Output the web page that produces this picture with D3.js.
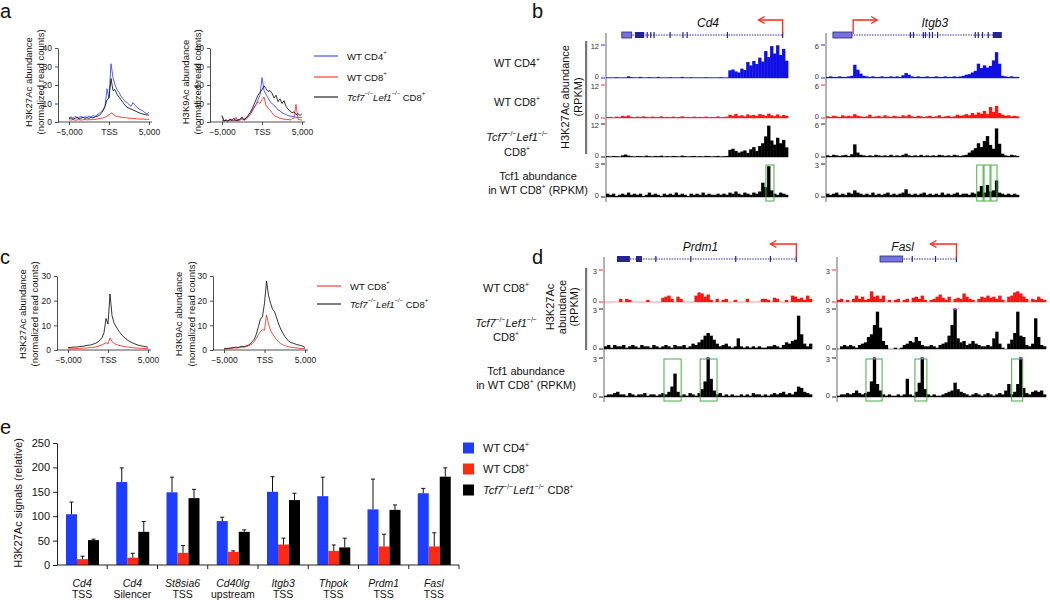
<!DOCTYPE html>
<html><head><meta charset="utf-8">
<script src="https://cdn.jsdelivr.net/npm/d3@7"></script>
<style>
body{margin:0;background:#fff;}
svg{font-family:"Liberation Sans",Arial,Helvetica,sans-serif;}
</style></head><body>
<svg id="fig" width="1050" height="600"></svg>
<script>
// ---------------- DATA ----------------
const profilePos = [-5000,-4750,-4500,-4250,-4000,-3750,-3500,-3250,-3000,-2750,-2500,-2250,-2000,-1750,-1500,-1250,-1000,-750,-500,-250,0,250,500,750,1000,1250,1500,1750,2000,2250,2500,2750,3000,3250,3500,3750,4000,4250,4500,4750,5000];
const profileTicks = [-5000, 0, 5000];
const a1Blue  = [2.2,2.8,2.0,3.1,2.4,2.6,3.0,2.3,2.9,2.5,3.2,2.7,3.4,3.0,3.8,4.5,5.6,6.5,8.5,18.0,13.0,31.5,24.0,20.0,17.5,16.0,14.0,12.5,11.0,10.5,9.5,8.5,10.5,9.0,8.0,7.0,6.5,6.0,5.0,4.5,5.2];
const a1Black = [1.8,2.2,1.5,2.0,2.4,1.7,2.1,2.6,1.9,2.3,2.0,2.5,2.2,2.8,3.0,3.5,4.5,6.0,8.5,12.0,13.0,23.5,17.0,17.5,15.0,13.5,12.0,10.5,9.0,8.0,7.5,7.0,6.5,6.0,5.5,5.0,4.6,4.3,4.0,3.8,3.7];
const a1Red   = [1.2,1.0,1.4,0.9,1.1,1.3,1.0,1.2,1.4,1.1,1.3,1.2,1.5,1.4,1.6,1.8,2.0,2.2,2.6,3.2,3.8,5.0,4.2,3.4,3.0,2.8,2.6,2.3,2.5,2.2,2.0,2.1,1.8,1.9,1.7,1.6,1.5,1.7,1.4,1.5,1.4];
const a2Blue  = [0.8,0.5,1.0,0.6,0.9,1.2,0.7,1.0,1.3,1.1,1.6,1.4,2.2,2.8,4.0,5.5,7.5,9.5,12.0,14.5,24.0,17.0,15.0,13.0,11.0,10.0,9.0,8.0,6.5,6.0,5.0,4.5,4.0,3.5,3.2,3.0,2.8,2.6,2.4,2.5,2.4];
const a2Black = [3.5,0.5,1.2,0.4,1.5,0.8,2.0,0.6,1.0,1.4,2.5,1.2,2.2,3.5,5.0,7.0,9.5,12.0,14.5,16.0,17.5,19.5,18.0,16.5,17.0,15.5,13.0,14.5,11.0,12.5,10.0,11.5,8.5,7.0,6.0,5.0,5.5,4.0,4.5,3.5,4.5];
const a2Red   = [3.0,0.5,1.0,0.4,1.8,0.6,0.9,2.5,0.5,1.2,2.8,0.8,1.5,2.5,4.0,6.0,8.0,9.5,11.0,10.0,12.0,13.5,9.0,7.5,6.5,5.0,3.5,3.0,2.5,2.0,1.8,1.5,1.2,1.5,1.0,1.8,2.0,9.5,1.5,1.2,1.0];
const c1Black = [1.0,1.0,1.1,1.2,1.2,1.3,1.4,1.5,1.6,1.8,1.9,2.0,2.2,2.5,2.8,3.3,4.0,5.0,7.0,12.8,10.5,22.7,14.0,11.0,9.5,8.2,7.0,6.0,5.2,4.5,3.9,3.4,3.0,2.6,2.3,2.0,1.8,1.6,1.5,1.3,1.2];
const c1Red   = [0.4,0.5,0.5,0.5,0.6,0.6,0.7,0.7,0.8,0.8,0.9,1.0,1.0,1.1,1.3,1.5,1.8,2.1,2.5,3.0,2.5,4.9,3.5,2.7,2.3,2.0,1.8,1.6,1.4,1.3,1.2,1.1,1.0,0.9,0.8,0.8,0.7,0.7,0.6,0.6,0.5];
const c2Black = [0.5,0.6,0.7,0.8,0.9,1.0,1.2,1.0,1.3,1.5,1.3,1.7,2.0,2.5,3.5,4.5,6.5,9.5,12.5,13.5,19.0,28.0,22.0,19.0,16.5,15.5,13.0,10.5,8.5,7.0,5.5,4.5,3.5,3.0,2.8,2.5,2.2,2.0,1.8,1.5,1.0];
const c2Red   = [0.4,0.5,0.5,0.6,0.7,0.8,0.8,0.9,1.0,1.1,1.2,1.4,1.6,2.0,2.6,3.5,4.8,6.2,7.5,8.2,8.0,14.2,10.5,8.0,6.5,5.2,4.2,3.3,2.6,2.1,1.8,1.5,1.3,1.1,1.0,0.9,0.8,0.7,0.6,0.6,0.5];

const cd4Blue  = [0.2,0.2,0.2,0.3,0.2,0.2,0.2,0.6,0.3,0.2,0.2,0.4,0.2,0.2,0.3,0.2,0.2,0.4,0.2,0.2,0.2,0.3,0.2,0.2,0.2,0.4,0.2,0.2,0.3,0.2,0.2,0.2,0.2,0.3,0.2,0.2,0.2,0.2,0.3,0.2,0.2,2.8,3.1,2.4,2.0,3.4,2.9,5.8,4.6,6.2,5.1,7.4,6.0,9.8,7.6,11.6,8.9,11.9,8.4,10.6,6.3];
const cd4Red   = [0.3,0.4,0.2,0.5,0.3,0.8,0.6,0.9,0.4,0.3,0.5,0.3,0.6,0.4,0.3,0.5,0.4,0.3,0.6,0.3,0.4,0.3,0.5,0.3,0.4,0.6,0.3,0.4,0.3,0.5,0.3,0.4,0.3,0.5,0.3,0.4,0.3,0.6,0.3,0.4,0.5,1.2,0.8,1.5,0.7,1.0,0.6,1.3,0.9,1.1,0.7,1.4,1.2,0.8,1.6,1.0,0.7,1.3,0.6,1.1,0.8];
const cd4Black = [0.3,0.2,0.4,0.3,0.2,0.6,0.9,0.5,0.3,0.2,0.4,0.3,0.2,0.5,0.3,0.2,0.4,0.3,0.5,0.2,0.3,0.2,0.4,0.3,0.2,0.5,0.3,0.2,0.3,0.4,0.2,0.3,0.2,0.4,0.3,0.2,0.3,0.4,0.2,0.3,0.4,2.6,3.0,2.2,1.6,2.0,2.4,1.5,2.8,3.6,2.2,4.0,5.0,7.5,11.4,6.0,4.5,7.0,5.0,6.2,3.5];
const cd4Tcf1  = [0.3,0.2,0.3,0.1,0.2,0.3,0.2,0.4,0.2,0.3,0.2,0.3,0.1,0.2,0.4,0.2,0.3,0.2,0.1,0.3,0.2,0.3,0.2,0.4,0.2,0.3,0.2,0.1,0.3,0.2,0.3,0.2,0.4,0.2,0.3,0.2,0.2,0.3,0.2,0.3,0.2,0.4,0.3,0.5,0.3,0.2,0.4,0.3,0.2,0.4,0.3,0.5,1.3,0.9,2.8,0.6,0.3,0.2,0.4,0.3,0.2];
const cd4Boxes = [[53.6, 56.3]];
const cd4Exons = [[9.7,12.8],[13.6,14.0],[14.8,15.2],[15.9,16.3],[21.3,21.7],[25.6,26.0],[27.0,27.4],[40.5,40.9],[59.0,59.4]];
const cd4Utr   = [[5.3,8.6]];

const itgBlue  = [0.2,0.3,0.2,0.2,0.3,0.2,0.2,0.3,0.4,2.4,1.5,0.8,0.4,0.3,0.2,0.3,0.2,0.2,0.3,0.2,0.2,0.3,0.2,0.3,0.2,0.5,0.9,0.6,0.3,0.2,0.3,0.2,0.2,0.3,0.2,0.2,0.3,0.2,0.2,0.3,0.2,0.2,0.3,0.2,0.3,0.4,0.6,0.7,1.0,1.3,2.6,1.8,2.3,1.9,2.2,3.2,4.7,2.6,0.4,0.3,0.2,0.3,0.2,0.2];
const itgRed   = [0.3,0.2,0.4,0.3,0.2,0.5,0.3,0.4,0.3,0.7,0.4,0.3,0.2,0.3,0.6,0.2,0.3,0.4,0.2,0.5,0.3,0.2,0.4,0.3,0.2,0.5,0.3,0.6,0.3,0.2,0.4,0.3,0.2,0.3,0.4,0.2,0.3,0.5,0.2,0.3,0.4,0.2,0.3,0.6,0.4,0.5,0.7,0.5,0.9,0.6,1.0,0.8,1.3,0.7,2.0,1.1,2.2,0.9,0.6,0.4,0.5,0.3,0.4,0.3];
const itgBlack = [0.3,0.2,0.4,0.3,0.2,0.3,0.4,0.2,0.5,2.3,0.8,0.4,0.3,0.2,0.3,0.2,0.4,0.3,0.2,0.3,0.2,0.4,0.2,0.3,0.2,0.4,0.6,0.3,0.2,0.3,0.2,0.4,0.2,0.3,0.2,0.3,0.2,0.4,0.3,0.2,0.3,0.2,0.4,0.3,0.2,0.3,0.4,0.8,1.2,1.6,2.5,1.8,2.9,3.8,2.2,1.5,5.2,2.4,0.6,0.3,0.2,0.4,0.3,0.2];
const itgTcf1  = [0.3,0.2,0.3,0.4,0.2,0.3,0.2,0.4,0.3,0.6,0.4,0.3,0.2,0.3,0.2,0.4,0.2,0.3,0.2,0.3,0.4,0.2,0.3,0.2,0.3,0.4,0.7,0.3,0.2,0.3,0.2,0.3,0.4,0.2,0.3,0.2,0.3,0.2,0.4,0.2,0.3,0.2,0.3,0.4,0.2,0.3,0.3,0.2,0.4,0.3,0.5,1.0,0.4,1.1,0.5,0.6,1.5,0.4,0.3,0.2,0.3,0.2,0.3,0.2];
const itgBoxes = [[50.0,52.1],[52.4,54.4],[54.7,56.7]];
const itgExons = [[27.8,28.1],[28.8,29.1],[32.1,32.4],[32.8,33.1],[34.1,34.4],[35.1,35.4],[36.8,37.1],[49.3,49.6],[50.3,50.6],[51.7,52.0],[53.6,53.9],[55.3,58.3]];
const itgUtr   = [[2.3,8.6]];

const prdRed   = [0,0,0,0,0,0.3,0,0.3,0.2,0,0,0,0,0,0.2,0,0,0,0,0.4,0.5,0.6,0.3,0,0.5,0.3,0,0,0,0,0.6,0.9,0.8,0.5,0.7,0.2,0,0.3,0,0.2,0.3,0,0,0.2,0,0,0,0.3,0,0,0,0,0.3,0.3,0.2,0,0.4,0.3,0,0,0.2,0,0.6,0.5,0.3,0.4,0.2,0.6,0.3];
const prdBlack = [0.2,0.3,0.1,0.3,0.2,0.2,0.3,0.1,0.2,0.3,0.2,0.1,0.3,0.2,0.2,0.1,0.3,0.2,0.1,0.2,0.3,0.2,0.1,0.3,0.2,0.2,0.3,0.1,0.2,0.4,0.3,0.5,0.7,1.0,1.2,1.0,0.7,0.4,0.2,0.3,0.4,0.2,0.1,0.2,0.8,0.2,0.1,0.2,0.1,0.2,0.1,0.2,0.1,0.1,0.2,0.2,0.3,0.2,0.1,0.3,0.5,0.4,0.6,0.7,2.5,1.1,0.4,0.2,0.4];
const prdTcf1  = [0.1,0.2,0.2,0.3,0.4,0.2,0.2,0.1,0.3,0.2,0.1,0.2,0.2,0.3,0.1,0.2,0.2,0.1,0.2,0.3,0.2,0.4,0.8,1.8,0.4,0.1,0.2,0.1,0.3,0.2,0.1,0.3,0.6,1.2,3.2,1.4,0.5,0.2,0.3,0.1,0.2,0.1,0.2,0.1,0.1,0.2,0.1,0.2,0.1,0.3,0.2,0.2,0.1,0.2,0.1,0.2,0.3,0.2,0.3,0.4,0.2,0.3,0.2,0.4,0.8,0.7,0.4,0.3,0.2];
const prdBoxes = [[19.9,25.6],[31.9,37.5]];
const prdExons = [[4.3,8.6],[10.6,12.6],[17.0,17.4],[28.6,29.0],[43.5,43.9],[55.0,55.4],[63.6,64.0]];
const prdUtr   = [];

const fasRed   = [0.2,0.3,0,0.2,0,0.3,0.6,0.3,0.5,0.2,0.3,1.0,0.5,0.6,0.3,0.6,0,0.2,0,0.2,0.3,0,0.2,0.3,0,0.4,0.5,0.3,0.6,0.2,0,0.2,0.3,0.5,0.7,0.4,0.2,0.5,0,0.3,0.4,0.3,0.8,0.5,0.3,0.2,0,0.3,0.5,0.4,0.6,0.4,0.5,0.3,0.6,0.2,0,0.5,0.6,0.9,1.0,0.8,0.5,0.3,0,0.3,0.2,0.5,0.3,0.2];
const fasBlack = [0,0.2,0.3,0.2,0.3,0.2,0.1,0.3,0.4,0.5,0.9,1.1,1.8,2.8,1.6,0.6,0.3,0,0,0.1,0,0.1,0.3,0.4,0.6,0.5,0.9,0.6,0.3,0.2,0.2,0.3,0.2,0.1,0.3,0.4,0.5,1.0,1.8,3.2,0.8,0.5,0.6,0.3,0.4,0.6,0.4,0.3,0.2,0.2,0.3,0.2,0.8,1.3,0.4,0.1,0,0.4,0.7,1.2,2.8,1.0,0.9,0.3,0.2,0.4,2.3,0.9,0.3,0.2];
const fasTcf1  = [0.1,0.2,0.2,0.3,0.2,0.3,0.5,0.3,0.2,0.3,0.4,1.2,3.2,1.0,0.5,0.2,0.1,0.2,0.1,0.1,0.2,0.1,0.2,1.4,0.2,0.1,0.4,1.1,3.2,0.6,0.2,0.1,0.2,0.1,0.1,0.2,0.3,0.4,0.5,1.1,0.6,0.4,0.3,0.2,0.1,0.2,0.3,0.2,0.1,0.2,0.3,0.2,0.1,0.2,0.3,0.2,0.5,1.0,0.2,0.4,1.0,3.2,0.7,0.3,0.2,0.4,0.5,0.4,0.5,0.2];
const fasBoxes = [[9.7,15.1],[26.1,30.1],[58.5,62.2]];
const fasExons = [[25.0,25.4],[32.8,33.2],[39.8,40.2]];
const fasUtr   = [[14.4,22.0]];

const eGenes  = ["Cd4","Cd4","St8sia6","Cd40lg","Itgb3","Thpok","Prdm1","Fasl"];
const eSites  = ["TSS","Silencer","TSS","upstream","TSS","TSS","TSS","TSS"];
const eCD4    = [104,170,149,90,150,141,114,147];
const eCD4Err = [25,29,31,8,31,39,62,10];
const eCD8    = [12,15,25,27,42,29,38,38];
const eCD8Err = [6,9,15,2,13,12,25,28];
const eKO     = [51,68,137,68,133,36,113,181];
const eKOErr  = [2,21,18,4,14,19,10,18];
const eTicks  = [0,50,100,150,200,250];

// ---------------- DRAW ----------------
const svg = d3.select("#fig");
const COL = {blue:"#2f45ff", red:"#ff2b24", black:"#111", barBlue:"#1f3dff", barRed:"#ff2a12",
  trBlue:"#1010e6", trRed:"#ff1414", trBlack:"#000", gene:"#25258f", geneLight:"#7474d8", green:"#45ad45", axis:"#666"};

function rich(parent, x, y, parts, size, anchor, rotate){
  const t = parent.append("text").attr("font-size", size).attr("text-anchor", anchor||"start")
    .attr("dominant-baseline","central").attr("fill","#111");
  if (rotate) t.attr("transform", `translate(${x},${y}) rotate(-90)`); else t.attr("x",x).attr("y",y);
  let raised = false;
  parts.forEach(p=>{
    const ts = t.append("tspan").text(p.t);
    if (p.it) ts.attr("font-style","italic");
    if (p.sup){ ts.attr("font-size", size*0.62); if(!raised){ ts.attr("dy", -size*0.38); raised=true; } }
    else if (raised){ ts.attr("dy", size*0.38); raised=false; }
  });
  return t;
}
const P = s => [{t:s}];
const WT4 = [{t:"WT CD4"},{t:"+",sup:1}];
const WT8 = [{t:"WT CD8"},{t:"+",sup:1}];
const KO  = [{t:"Tcf7",it:1},{t:"\u2212/\u2212",sup:1},{t:"Lef1",it:1},{t:"\u2212/\u2212",sup:1}];
const KOfull = KO.concat([{t:" CD8"},{t:"+",sup:1}]);
const CD8 = [{t:"CD8"},{t:"+",sup:1}];
const TCFL2 = [{t:"in WT CD8"},{t:"+",sup:1},{t:" (RPKM)"}];

function letter(ch, x, y){
  svg.append("text").attr("x",x).attr("y",y).attr("font-size",20).attr("fill","#111").text(ch);
}

function profile(cfg){
  const g = svg.append("g");
  const x = d3.scaleLinear().domain([-5000,5000]).range([cfg.xl, cfg.xr]);
  const y = d3.scaleLinear().domain([0,cfg.ymax]).range([cfg.yb, cfg.yt]);
  const ya = g.append("g").attr("transform",`translate(${cfg.ax},0)`)
    .call(d3.axisLeft(y).tickValues(cfg.yticks).tickSize(3).tickSizeOuter(0));
  const xa = g.append("g").attr("transform",`translate(0,${cfg.yb})`)
    .call(d3.axisBottom(x).tickValues(profileTicks).tickFormat(d=>d===0?"TSS":d3.format(",")(d)).tickSize(3).tickSizeOuter(0));
  xa.select(".domain").attr("d",`M${cfg.ax},0H${cfg.xr+3}`);
  [ya,xa].forEach(a=>{ a.attr("font-size",8.5).attr("font-family",null);
    a.selectAll("path,line").attr("stroke","#222").attr("stroke-width",0.8);
    a.selectAll("text").attr("fill","#222"); });
  xa.selectAll("text").attr("dy","0.85em");
  const line = d3.line().x((d,i)=>x(profilePos[i])).y(d=>y(d));
  cfg.series.forEach(s=>{
    g.append("path").datum(s.vals).attr("d",line).attr("fill","none")
     .attr("stroke",s.color).attr("stroke-width",0.85).attr("stroke-linejoin","round");
  });
  rich(g, cfg.tx[0], cfg.ty, P(cfg.title), 9.5, "middle", true);
  rich(g, cfg.tx[1], cfg.ty, P("(normalized read counts)"), 9.5, "middle", true);
}

function lineLegend(x, items){
  items.forEach(it=>{
    svg.append("line").attr("x1",x).attr("x2",x+24).attr("y1",it.y).attr("y2",it.y)
      .attr("stroke",it.color).attr("stroke-width",1.1);
    rich(svg, x+33, it.y, it.parts, 9.5, "start");
  });
}

function locus(cfg){
  const g = svg.append("g");
  const n = cfg.rows[0].vals.length;
  const x = d3.scaleLinear().domain([0,n]).range([cfg.x0, cfg.x1]);
  const last = cfg.rows[cfg.rows.length-1];
  g.append("line").attr("x1",cfg.axisX).attr("x2",cfg.axisX).attr("y1",cfg.geneY-2).attr("y2",last.yb+5)
    .attr("stroke",COL.axis).attr("stroke-width",1);
  cfg.rows.forEach(r=>{
    const y = d3.scaleLinear().domain([0,r.max]).range([r.yb,r.yt]).clamp(true);
    g.append("line").attr("x1",cfg.axisX).attr("x2",cfg.x1).attr("y1",r.yb).attr("y2",r.yb)
      .attr("stroke",r.color).attr("stroke-width",0.8).attr("opacity",0.55);
    g.selectAll(null).data(r.vals).join("rect")
      .attr("x",(d,i)=>x(i)).attr("width",(d,i)=>x(i+1)-x(i)+0.35)
      .attr("y",d=>y(d)).attr("height",d=>r.yb-y(d)).attr("fill",r.color);
    g.selectAll(null).data(r.vals.map((v,i)=>({v,i})).filter(d=>d.v>r.max)).join("rect")
      .attr("x",d=>x(d.i)).attr("width",d=>x(d.i+1)-x(d.i)).attr("y",r.yt-1).attr("height",2).attr("fill","#e020e0");
    [[r.max,r.yt,1.2],[0,r.yb,-1.2]].forEach(([lab,yy,off])=>{
      g.append("line").attr("x1",cfg.axisX-5).attr("x2",cfg.axisX-1).attr("y1",yy).attr("y2",yy)
        .attr("stroke",r.color).attr("stroke-width",0.9);
      g.append("text").attr("x",cfg.axisX-7).attr("y",yy+off).attr("text-anchor","end").attr("dominant-baseline","central")
        .attr("font-size",7.5).attr("fill","#333").text(lab);
    });
    (r.boxes||[]).forEach(b=>{
      g.append("rect").attr("x",x(b[0])).attr("width",x(b[1])-x(b[0])).attr("y",r.yt+1).attr("height",r.yb-r.yt+3)
        .attr("fill","none").attr("stroke",COL.green).attr("stroke-width",1);
    });
  });
  const gm = cfg.gene;
  g.append("line").attr("x1",x(gm.start)).attr("x2",x(gm.end)).attr("y1",cfg.geneY).attr("y2",cfg.geneY)
    .attr("stroke",COL.gene).attr("stroke-width",0.9).attr("stroke-dasharray","1.6,1");
  gm.utr.forEach(e=>{
    g.append("rect").attr("x",x(e[0])).attr("width",x(e[1])-x(e[0])).attr("y",cfg.geneY-3).attr("height",6)
      .attr("fill",COL.geneLight).attr("stroke",COL.gene).attr("stroke-width",0.8);
  });
  gm.exons.forEach(e=>{
    g.append("rect").attr("x",x(e[0])).attr("width",Math.max(1.2,x(e[1])-x(e[0]))).attr("y",cfg.geneY-3).attr("height",6)
      .attr("fill",COL.gene);
  });
  const tx = x(gm.tss), tip = tx + gm.dir*cfg.arrowLen, ay = cfg.geneY-15;
  g.append("path").attr("d",`M${tx},${cfg.geneY-1}V${ay}H${tip}`).attr("fill","none").attr("stroke","#ff2a1a").attr("stroke-width",1.3);
  g.append("path").attr("d",`M${tip-gm.dir*6},${ay-3.5}L${tip},${ay}L${tip-gm.dir*6},${ay+3.5}`).attr("fill","none").attr("stroke","#ff2a1a").attr("stroke-width",1.3);
  g.append("text").attr("x",x(gm.labelPos)).attr("y",cfg.geneY-12).attr("text-anchor","middle").attr("dominant-baseline","central")
    .attr("font-size",12).attr("font-style","italic").attr("fill","#111").text(gm.name);
}

// ----- panel a -----
letter("a", 0, 18);
profile({ax:58, xl:69, xr:149, yt:48, yb:122, ymax:40, yticks:[0,10,20,30,40], title:"H3K27Ac abundance", tx:[28,40], ty:82,
  series:[{vals:a1Blue,color:COL.blue},{vals:a1Red,color:COL.red},{vals:a1Black,color:COL.black}]});
profile({ax:210, xl:222, xr:302, yt:48, yb:122, ymax:40, yticks:[0,10,20,30,40], title:"H3K9Ac abundance", tx:[185,197], ty:82,
  series:[{vals:a2Blue,color:COL.blue},{vals:a2Red,color:COL.red},{vals:a2Black,color:COL.black}]});
lineLegend(314, [{y:56,color:COL.blue,parts:WT4},{y:77,color:COL.red,parts:WT8},{y:97,color:COL.black,parts:KOfull}]);

// ----- panel c -----
letter("c", 0, 264);
profile({ax:57, xl:68, xr:148, yt:276, yb:350, ymax:30, yticks:[0,10,20,30], title:"H3K27Ac abundance", tx:[22,34], ty:314,
  series:[{vals:c1Red,color:COL.red},{vals:c1Black,color:COL.black}]});
profile({ax:213, xl:224, xr:305, yt:276, yb:350, ymax:30, yticks:[0,10,20,30], title:"H3K9Ac abundance", tx:[178,191], ty:314,
  series:[{vals:c2Red,color:COL.red},{vals:c2Black,color:COL.black}]});
lineLegend(317, [{y:286,color:COL.red,parts:WT8},{y:304,color:COL.black,parts:KOfull}]);

// ----- panel b -----
letter("b", 532, 18);
rich(svg, 517, 63, WT4, 11, "middle");
rich(svg, 517, 102, WT8, 11, "middle");
rich(svg, 517, 137, KO, 11, "middle");
rich(svg, 517, 152, CD8, 11, "middle");
rich(svg, 538, 176, P("Tcf1 abundance"), 11, "middle");
rich(svg, 538, 190, TCFL2, 11, "middle");
svg.append("rect").attr("x",585).attr("y",41).attr("width",2.2).attr("height",113).attr("fill","#777");
rich(svg, 565, 97, P("H3K27Ac abundance"), 11, "middle", true);
rich(svg, 578, 97, P("(RPKM)"), 11, "middle", true);
const rowsB = [{yt:45,yb:78},{yt:85,yb:118},{yt:124,yb:157},{yt:164,yb:197}];
locus({axisX:606, x0:606, x1:788, geneY:35, arrowLen:24,
  gene:{name:"Cd4", start:5.3, end:59.4, tss:59.2, dir:-1, labelPos:34.2, exons:cd4Exons, utr:cd4Utr},
  rows:[{...rowsB[0],max:12,vals:cd4Blue,color:COL.trBlue},{...rowsB[1],max:12,vals:cd4Red,color:COL.trRed},
        {...rowsB[2],max:12,vals:cd4Black,color:COL.trBlack},{...rowsB[3],max:3,vals:cd4Tcf1,color:COL.trBlack,boxes:cd4Boxes}]});
locus({axisX:826, x0:826, x1:1019, geneY:35, arrowLen:24,
  gene:{name:"Itgb3", start:2.3, end:58.3, tss:9.0, dir:1, labelPos:36.1, exons:itgExons, utr:itgUtr},
  rows:[{...rowsB[0],max:6,vals:itgBlue,color:COL.trBlue},{...rowsB[1],max:6,vals:itgRed,color:COL.trRed},
        {...rowsB[2],max:6,vals:itgBlack,color:COL.trBlack},{...rowsB[3],max:3,vals:itgTcf1,color:COL.trBlack,boxes:itgBoxes}]});

// ----- panel d -----
letter("d", 532, 264);
rich(svg, 506, 288, WT8, 11, "middle");
rich(svg, 506, 323, KO, 11, "middle");
rich(svg, 506, 337, CD8, 11, "middle");
rich(svg, 526, 371, P("Tcf1 abundance"), 11, "middle");
rich(svg, 526, 385, TCFL2, 11, "middle");
svg.append("rect").attr("x",585).attr("y",268).attr("width",2.2).attr("height",82).attr("fill","#777");
rich(svg, 550, 307, P("H3K27Ac"), 11, "middle", true);
rich(svg, 562, 307, P("abundance"), 11, "middle", true);
rich(svg, 574, 307, P("(RPKM)"), 11, "middle", true);
const rowsD = [{yt:270,yb:302},{yt:309,yb:349},{yt:358,yb:397}];
locus({axisX:604, x0:604, x1:812, geneY:259, arrowLen:26,
  gene:{name:"Prdm1", start:4.3, end:64.0, tss:63.8, dir:-1, labelPos:32, exons:prdExons, utr:prdUtr},
  rows:[{...rowsD[0],max:3,vals:prdRed,color:COL.trRed},{...rowsD[1],max:3,vals:prdBlack,color:COL.trBlack},
        {...rowsD[2],max:3,vals:prdTcf1,color:COL.trBlack,boxes:prdBoxes}]});
locus({axisX:837, x0:837, x1:1046, geneY:259, arrowLen:26,
  gene:{name:"Fasl", start:14.4, end:40.2, tss:40.0, dir:-1, labelPos:22, exons:fasExons, utr:fasUtr},
  rows:[{...rowsD[0],max:3,vals:fasRed,color:COL.trRed},{...rowsD[1],max:3,vals:fasBlack,color:COL.trBlack},
        {...rowsD[2],max:3,vals:fasTcf1,color:COL.trBlack,boxes:fasBoxes}]});

// ----- panel e -----
letter("e", 0, 434);
const eg = svg.append("g");
const ex = d3.scaleBand().domain(d3.range(eGenes.length)).range([57,459]);
const ei = d3.scaleBand().domain([0,1,2]).range([9,42]);
const ey = d3.scaleLinear().domain([0,250]).range([565,443]);
const series = [{v:eCD4,e:eCD4Err,c:COL.barBlue},{v:eCD8,e:eCD8Err,c:COL.barRed},{v:eKO,e:eKOErr,c:"#000"}];
series.forEach((s,si)=>{
  eg.selectAll(null).data(s.v).join("rect")
    .attr("x",(d,i)=>ex(i)+ei(si)).attr("width",ei.bandwidth()).attr("y",d=>ey(d)).attr("height",d=>565-ey(d)).attr("fill",s.c);
  eg.selectAll(null).data(s.v).join("path")
    .attr("d",(d,i)=>{const cx=ex(i)+ei(si)+ei.bandwidth()/2, t=ey(d+s.e[i]);
      return `M${cx},${ey(d)}V${t}M${cx-2},${t}H${cx+2}`;})
    .attr("stroke","#111").attr("stroke-width",1).attr("fill","none");
});
const eya = eg.append("g").attr("transform","translate(57,0)")
  .call(d3.axisLeft(ey).tickValues(eTicks).tickSize(4).tickSizeOuter(0));
eya.attr("font-size",11).attr("font-family",null);
eya.selectAll("path,line").attr("stroke","#222");
eya.selectAll("text").attr("fill","#111");
eg.append("line").attr("x1",57).attr("x2",459).attr("y1",565).attr("y2",565).attr("stroke","#222");
eg.selectAll(null).data(d3.range(eGenes.length)).join("line")
  .attr("x1",i=>ex(i)+ex.bandwidth()).attr("x2",i=>ex(i)+ex.bandwidth()).attr("y1",565).attr("y2",569).attr("stroke","#222");
eGenes.forEach((gname,i)=>{
  const cx = ex(i)+ex.bandwidth()/2;
  eg.append("text").attr("x",cx).attr("y",587).attr("text-anchor","middle").attr("font-size",10.5).attr("font-style","italic").attr("fill","#111").text(gname);
  eg.append("text").attr("x",cx).attr("y",598).attr("text-anchor","middle").attr("font-size",10.5).attr("fill","#111").text(eSites[i]);
});
rich(eg, 18, 503, P("H3K27Ac signals (relative)"), 11, "middle", true);
[{c:COL.barBlue,p:WT4,y:448},{c:COL.barRed,p:WT8,y:469},{c:"#000",p:KOfull,y:490}].forEach(it=>{
  eg.append("rect").attr("x",463).attr("y",it.y-5.5).attr("width",11).attr("height",11).attr("fill",it.c);
  rich(eg, 483, it.y, it.p, 11, "start");
});
</script>
</body></html>
